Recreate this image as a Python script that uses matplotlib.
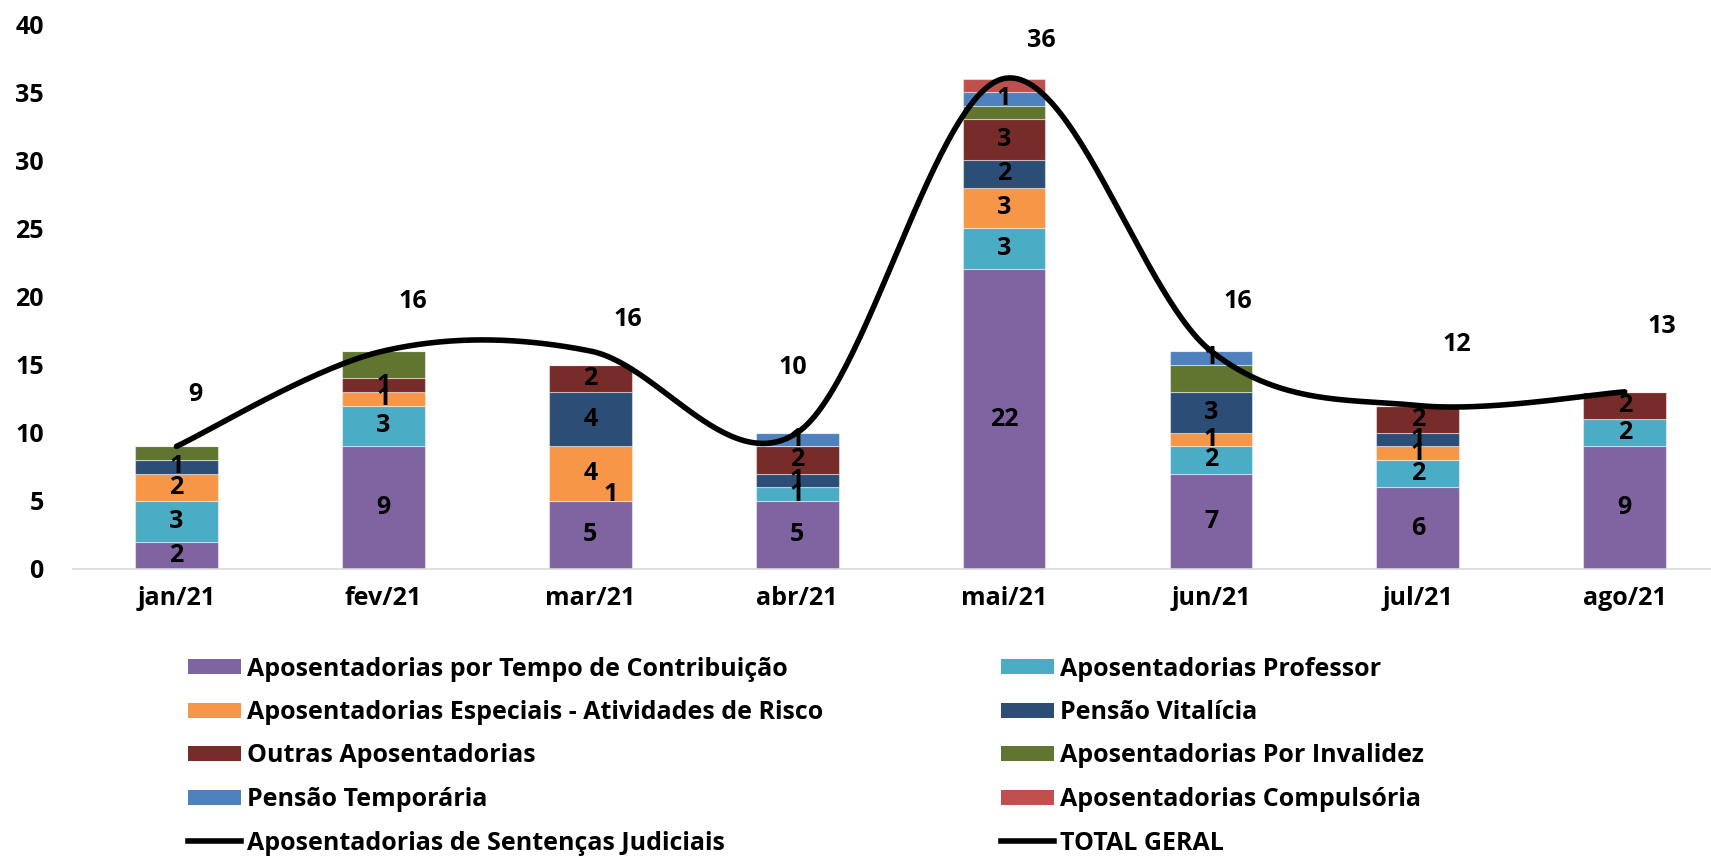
import numpy as np
import matplotlib.pyplot as plt
from matplotlib.lines import Line2D
from matplotlib.patches import Patch

plt.rcParams['font.family'] = ['Open Sans', 'DejaVu Sans']
plt.rcParams['font.weight'] = 'bold'

meses = ['jan/21', 'fev/21', 'mar/21', 'abr/21', 'mai/21', 'jun/21', 'jul/21', 'ago/21']

tempo_contrib = [2, 9, 5, 5, 22, 7, 6, 9]
professor = [3, 3, 0, 1, 3, 2, 2, 2]
especiais = [2, 1, 4, 0, 3, 1, 1, 0]
vitalicia = [1, 0, 4, 1, 2, 3, 1, 0]
outras = [0, 1, 2, 2, 3, 0, 2, 2]
invalidez = [1, 2, 0, 0, 1, 2, 0, 0]
temporaria = [0, 0, 0, 1, 1, 1, 0, 0]
compulsoria = [0, 0, 0, 0, 1, 0, 0, 0]
sentencas = [np.nan, np.nan, 1, np.nan, np.nan, np.nan, np.nan, np.nan]
total_geral = [9, 16, 16, 10, 36, 16, 12, 13]

# (nome, valores, cor, mostra rotulo)
series = [
    ('Aposentadorias por Tempo de Contribuição', tempo_contrib, '#8064A2', True),
    ('Aposentadorias Professor', professor, '#4BACC6', True),
    ('Aposentadorias Especiais - Atividades de Risco', especiais, '#F79646', True),
    ('Pensão Vitalícia', vitalicia, '#2C4D75', True),
    ('Outras Aposentadorias', outras, '#772C2A', True),
    ('Aposentadorias Por Invalidez', invalidez, '#5F7530', False),
    ('Pensão Temporária', temporaria, '#4F81BD', True),
    ('Aposentadorias Compulsória', compulsoria, '#C0504D', False),
]

# deslocamento dos rotulos do total (x em categorias, y em unidades)
total_lbl_off = [(0.09, 3.8), (0.14, 3.6), (0.18, 2.3), (-0.02, 4.8),
                 (0.18, 2.8), (0.13, 3.6), (0.19, 4.5), (0.18, 4.8)]

W, H = 1711, 856
fig = plt.figure(figsize=(W / 100, H / 100), dpi=100)
ax = fig.add_axes([73 / W, 1 - 569 / H, (W - 73) / W, (569 - 24) / H])

x = np.arange(len(meses))
bottom = np.zeros(len(meses))
fs_lbl = 18
for nome, vals, cor, rot in series:
    vals = np.array(vals, dtype=float)
    ax.bar(x, vals, 0.4, bottom=bottom, color=cor, edgecolor=(1, 1, 1, 0.45),
           linewidth=0.8, zorder=2)
    if rot:
        for xi, b, v in zip(x, bottom, vals):
            if v > 0:
                ax.text(xi, b + v / 2, f'{v:g}', ha='center', va='center',
                        fontsize=fs_lbl, fontweight='bold', zorder=4)
    bottom += vals

# sentencas judiciais: rotulo ao lado da coluna
for xi, v in zip(x, sentencas):
    if not np.isnan(v):
        ax.text(xi + 0.1, tempo_contrib[xi] + v / 2, f'{v:g}', ha='center',
                va='center', fontsize=fs_lbl, fontweight='bold', zorder=4)


# linha suavizada (bezier estilo Excel)
def suaviza(xs, ys, n=60):
    xs = np.asarray(xs, float)
    ys = np.asarray(ys, float)
    px, py = [], []
    t = np.linspace(0, 1, n)
    for i in range(len(xs) - 1):
        i0 = max(i - 1, 0)
        i3 = min(i + 2, len(xs) - 1)
        p0 = np.array([xs[i], ys[i]])
        p3 = np.array([xs[i + 1], ys[i + 1]])
        c1 = p0 + (p3 - np.array([xs[i0], ys[i0]])) / 6
        c2 = p3 - (np.array([xs[i3], ys[i3]]) - p0) / 6
        b = ((1 - t) ** 3)[:, None] * p0 + (3 * (1 - t) ** 2 * t)[:, None] * c1 \
            + (3 * (1 - t) * t ** 2)[:, None] * c2 + (t ** 3)[:, None] * p3
        px.extend(b[:, 0])
        py.extend(b[:, 1])
    return px, py


sx, sy = suaviza(x, total_geral)
ax.plot(sx, sy, color='black', lw=4, solid_capstyle='round', zorder=3)
ax.plot(x, sentencas, color='black', lw=4, zorder=3)

for xi, v, (dx, dy) in zip(x, total_geral, total_lbl_off):
    ax.text(xi + dx, v + dy, str(v), ha='center', va='center',
            fontsize=fs_lbl, fontweight='bold', zorder=4)

ax.set_xlim(-0.5, (W - 73) / 206.9 - 0.5)
ax.set_ylim(0, 40)
ax.set_yticks(range(0, 41, 5))
ax.set_xticks(x)
ax.set_xticklabels(meses)
for s in ['top', 'right', 'left']:
    ax.spines[s].set_visible(False)
ax.spines['bottom'].set_color('#d9d9d9')
ax.spines['bottom'].set_linewidth(1.2)
ax.tick_params(axis='both', length=0, labelsize=18)
ax.tick_params(axis='y', pad=21)
ax.tick_params(axis='x', pad=12)
for lbl in ax.get_xticklabels() + ax.get_yticklabels():
    lbl.set_fontweight('bold')

handles = [Patch(facecolor=c, label=n) for n, _, c, _ in series]
handles.append(Line2D([], [], color='black', lw=4, label='Aposentadorias de Sentenças Judiciais'))
handles.append(Line2D([], [], color='black', lw=4, label='TOTAL GERAL'))
col_esq = handles[0::2]
col_dir = handles[1::2]

leg_kw = dict(loc='center left', frameon=False, borderpad=0, borderaxespad=0,
              handlelength=2.1, handleheight=0.55, handletextpad=0.25,
              labelspacing=0.74, prop={'size': 18, 'weight': 'bold'})
fig.legend(handles=col_esq, bbox_to_anchor=(188 / W, 1 - 756 / H), **leg_kw)
fig.legend(handles=col_dir, bbox_to_anchor=(1001 / W, 1 - 756 / H), **leg_kw)

fig.savefig('out.png', dpi=100)
